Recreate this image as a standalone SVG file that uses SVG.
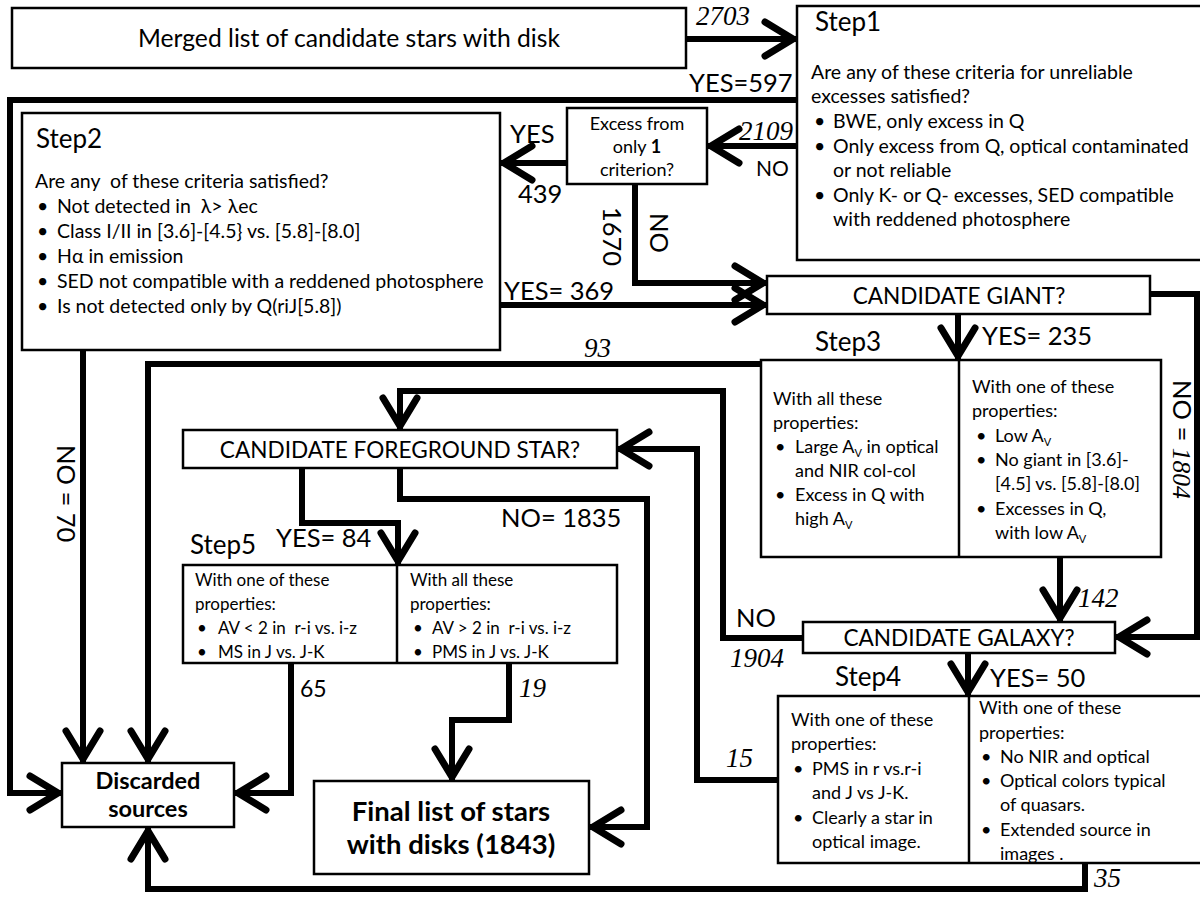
<svg xmlns="http://www.w3.org/2000/svg" width="1200" height="897" viewBox="0 0 1200 897">
<defs>
<marker id="ah" markerUnits="userSpaceOnUse" markerWidth="60" markerHeight="60" refX="0" refY="0" orient="auto" viewBox="-40 -30 50 60" overflow="visible">
<path d="M -32,-17 L -4,0 L -32,17" fill="none" stroke="#000" stroke-width="7" stroke-linecap="round" stroke-linejoin="miter"/>
</marker>
</defs>
<style>
.box{fill:#fff;stroke:#000;stroke-width:2.5}
.div{stroke:#000;stroke-width:2.5}
.c{fill:none;stroke:#000;stroke-width:6;marker-end:url(#ah)}
text{font-family:Lato,"Liberation Sans",sans-serif;fill:#000;white-space:pre}
.b18{font-size:19.5px}
.b16{font-size:18px}
.s5{font-size:17px}
.ex{font-size:18px}
.hdr{font-size:26px}
.cap{font-size:22.6px}
.lbl{font-size:25.5px}
.num{font-family:"Liberation Serif",serif;font-style:italic;font-size:27px}
.mid{text-anchor:middle}
.bold{font-weight:bold}
.sub{font-size:11px}
</style>
<rect width="1200" height="897" fill="#fff"/>

<g id="connectors">
<path class="c" d="M 686 39 H 797"/>
<path class="c" d="M 797 100 H 10 V 793 H 62"/>
<path class="c" d="M 797 146 H 707"/>
<path class="c" d="M 567 163 H 500"/>
<path class="c" d="M 635 184 V 283 H 767"/>
<path class="c" d="M 500 305 H 767"/>
<path class="c" d="M 1150 294 H 1197 V 637 H 1115"/>
<path class="c" d="M 958 314 V 360"/>
<path class="c" d="M 761 364 H 148 V 763"/>
<path class="c" d="M 83 350 V 763"/>
<path class="c" d="M 803 638 H 723 V 391 H 400 V 430"/>
<path class="c" d="M 778 780 H 697 V 449 H 617"/>
<path class="c" d="M 400 468 V 499 H 647 V 827 H 589"/>
<path class="c" d="M 302 468 V 523 H 398 V 565"/>
<path class="c" d="M 291 663 V 793 H 234"/>
<path class="c" d="M 509 663 V 720 H 452 V 781"/>
<path class="c" d="M 1060 557 V 622"/>
<path class="c" d="M 968 653 V 696"/>
<path class="c" d="M 1085 863 V 889 H 148 V 827"/>
</g>

<g id="labels">
<text class="num" x="696" y="25">2703</text>
<text class="lbl" x="689" y="92">YES=597</text>
<text class="num" x="739" y="140">2109</text>
<text class="lbl" x="756" y="176" style="font-size:21px">NO</text>
<text class="lbl" x="510" y="143">YES</text>
<text class="lbl" x="518" y="203">439</text>
<text class="lbl" x="504" y="300">YES= 369</text>
<text class="lbl" transform="translate(603,207) rotate(90)">1670</text>
<text class="lbl" transform="translate(650,213) rotate(90)">NO</text>
<text class="lbl" transform="translate(1173,380) rotate(90)">NO = <tspan style="font-family:'Liberation Serif',serif;font-style:italic">1804</tspan></text>
<text class="lbl" transform="translate(57,445) rotate(90)">NO = 70</text>
<text class="lbl" x="982" y="345">YES= 235</text>
<text class="num" x="584" y="357">93</text>
<text class="num" x="1078" y="607">142</text>
<text class="lbl" x="736" y="627">NO</text>
<text class="num" x="730" y="667">1904</text>
<text class="num" x="726" y="767">15</text>
<text class="lbl" x="990" y="687">YES= 50</text>
<text class="num" x="1094" y="887">35</text>
<text class="lbl" x="501" y="527">NO= 1835</text>
<text class="lbl" x="276" y="547">YES= 84</text>
<text class="lbl" x="300" y="697" style="font-size:23px">65</text>
<text class="num" x="519" y="697">19</text>
</g>

<g id="merged">
<rect class="box" x="12" y="8" width="674" height="60"/>
<text class="mid" x="349" y="47" style="font-size:24.7px">Merged list of candidate stars with disk</text>
</g>

<g id="step1">
<rect class="box" x="797" y="6" width="410" height="254"/>
<text class="hdr" x="815" y="31">Step1</text>
<text class="b18" x="811" y="79">Are any of these criteria for unreliable</text>
<text class="b18" x="811" y="103">excesses satisfied?</text>
<text class="b18" x="814" y="128">•</text><text class="b18" x="833" y="128">BWE, only excess in Q</text>
<text class="b18" x="814" y="153">•</text><text class="b18" x="833" y="153">Only excess from Q, optical contaminated</text>
<text class="b18" x="833" y="177">or not reliable</text>
<text class="b18" x="814" y="202">•</text><text class="b18" x="833" y="202">Only K- or Q- excesses, SED compatible</text>
<text class="b18" x="833" y="226">with reddened photosphere</text>
</g>

<g id="excess">
<rect class="box" x="567" y="108" width="140" height="76"/>
<text class="ex mid" x="637" y="130">Excess from</text>
<text class="ex mid" x="637" y="153">only <tspan class="bold">1</tspan></text>
<text class="ex mid" x="637" y="176">criterion?</text>
</g>

<g id="step2">
<rect class="box" x="22" y="113" width="478" height="237"/>
<text class="hdr" x="36" y="148">Step2</text>
<text class="b18" x="35" y="188">Are any  of these criteria satisfied?</text>
<text class="b18" x="37" y="213">•</text><text class="b18" x="57" y="213">Not detected in  λ&gt; λec</text>
<text class="b18" x="37" y="238">•</text><text class="b18" x="57" y="238">Class I/II in [3.6]-[4.5} vs. [5.8]-[8.0]</text>
<text class="b18" x="37" y="263">•</text><text class="b18" x="57" y="263">Hα in emission</text>
<text class="b18" x="37" y="288">•</text><text class="b18" x="57" y="288">SED not compatible with a reddened photosphere</text>
<text class="b18" x="37" y="313">•</text><text class="b18" x="57" y="313">Is not detected only by Q(riJ[5.8])</text>
</g>

<g id="giant">
<rect class="box" x="767" y="276" width="383" height="38"/>
<text class="cap mid" x="959" y="304">CANDIDATE GIANT?</text>
</g>

<g id="step3">
<text class="hdr" x="815" y="351">Step3</text>
<rect class="box" x="761" y="360" width="400" height="197"/>
<line class="div" x1="959" y1="360" x2="959" y2="557"/>
<text class="b16" x="773" y="405">With all these</text>
<text class="b16" x="773" y="429">properties:</text>
<text class="b16" x="775" y="453">•</text><text class="b16" x="795" y="453">Large A<tspan class="sub" dy="4">V</tspan><tspan dy="-4"> in optical</tspan></text>
<text class="b16" x="795" y="477">and NIR col-col</text>
<text class="b16" x="775" y="501">•</text><text class="b16" x="795" y="501">Excess in Q with</text>
<text class="b16" x="795" y="525">high A<tspan class="sub" dy="4">V</tspan></text>
<text class="b16" x="972" y="393">With one of these</text>
<text class="b16" x="972" y="417">properties:</text>
<text class="b16" x="976" y="442">•</text><text class="b16" x="995" y="442">Low A<tspan class="sub" dy="4">V</tspan></text>
<text class="b16" x="976" y="466">•</text><text class="b16" x="995" y="466">No giant in [3.6]-</text>
<text class="b16" x="995" y="490">[4.5] vs. [5.8]-[8.0]</text>
<text class="b16" x="976" y="515">•</text><text class="b16" x="995" y="515">Excesses in Q,</text>
<text class="b16" x="995" y="539">with low A<tspan class="sub" dy="4">V</tspan></text>
</g>

<g id="foreground">
<rect class="box" x="183" y="430" width="434" height="38"/>
<text class="cap mid" x="400" y="458">CANDIDATE FOREGROUND STAR?</text>
</g>

<g id="step5">
<text class="hdr" x="190" y="554">Step5</text>
<rect class="box" x="183" y="565" width="434" height="98"/>
<line class="div" x1="397" y1="565" x2="397" y2="663"/>
<text class="s5" x="195" y="586">With one of these</text>
<text class="s5" x="195" y="610">properties:</text>
<text class="s5" x="197" y="634">•</text><text class="s5" x="218" y="634">AV &lt; 2 in  r-i vs. i-z</text>
<text class="s5" x="197" y="658">•</text><text class="s5" x="218" y="658">MS in J vs. J-K</text>
<text class="s5" x="410" y="586">With all these</text>
<text class="s5" x="410" y="610">properties:</text>
<text class="s5" x="413" y="634">•</text><text class="s5" x="432" y="634">AV &gt; 2 in  r-i vs. i-z</text>
<text class="s5" x="413" y="658">•</text><text class="s5" x="432" y="658">PMS in J vs. J-K</text>
</g>

<g id="galaxy">
<rect class="box" x="803" y="622" width="312" height="31"/>
<text class="cap mid" x="959" y="646">CANDIDATE GALAXY?</text>
</g>

<g id="step4">
<text class="hdr" x="835" y="686">Step4</text>
<rect class="box" x="778" y="696" width="425" height="167"/>
<line class="div" x1="969" y1="696" x2="969" y2="863"/>
<text class="b16" x="791" y="726">With one of these</text>
<text class="b16" x="791" y="750">properties:</text>
<text class="b16" x="793" y="775">•</text><text class="b16" x="812" y="775">PMS in r vs.r-i</text>
<text class="b16" x="812" y="799">and J vs J-K.</text>
<text class="b16" x="793" y="824">•</text><text class="b16" x="812" y="824">Clearly a star in</text>
<text class="b16" x="812" y="848">optical image.</text>
<text class="b16" x="979" y="714">With one of these</text>
<text class="b16" x="979" y="739">properties:</text>
<text class="b16" x="981" y="763">•</text><text class="b16" x="1000" y="763">No NIR and optical</text>
<text class="b16" x="981" y="787">•</text><text class="b16" x="1000" y="787">Optical colors typical</text>
<text class="b16" x="1000" y="811">of quasars.</text>
<text class="b16" x="981" y="836">•</text><text class="b16" x="1000" y="836">Extended source in</text>
<text class="b16" x="1000" y="860">images .</text>
</g>

<g id="discarded">
<rect class="box" x="62" y="763" width="172" height="64"/>
<text class="mid bold" x="148" y="789" style="font-size:23.5px">Discarded</text>
<text class="mid bold" x="148" y="817" style="font-size:23.5px">sources</text>
</g>

<g id="final">
<rect class="box" x="314" y="781" width="275" height="93"/>
<text class="mid bold" x="451" y="821" style="font-size:27.5px">Final list of stars</text>
<text class="mid bold" x="451" y="854" style="font-size:27.5px">with disks (1843)</text>
</g>
</svg>
